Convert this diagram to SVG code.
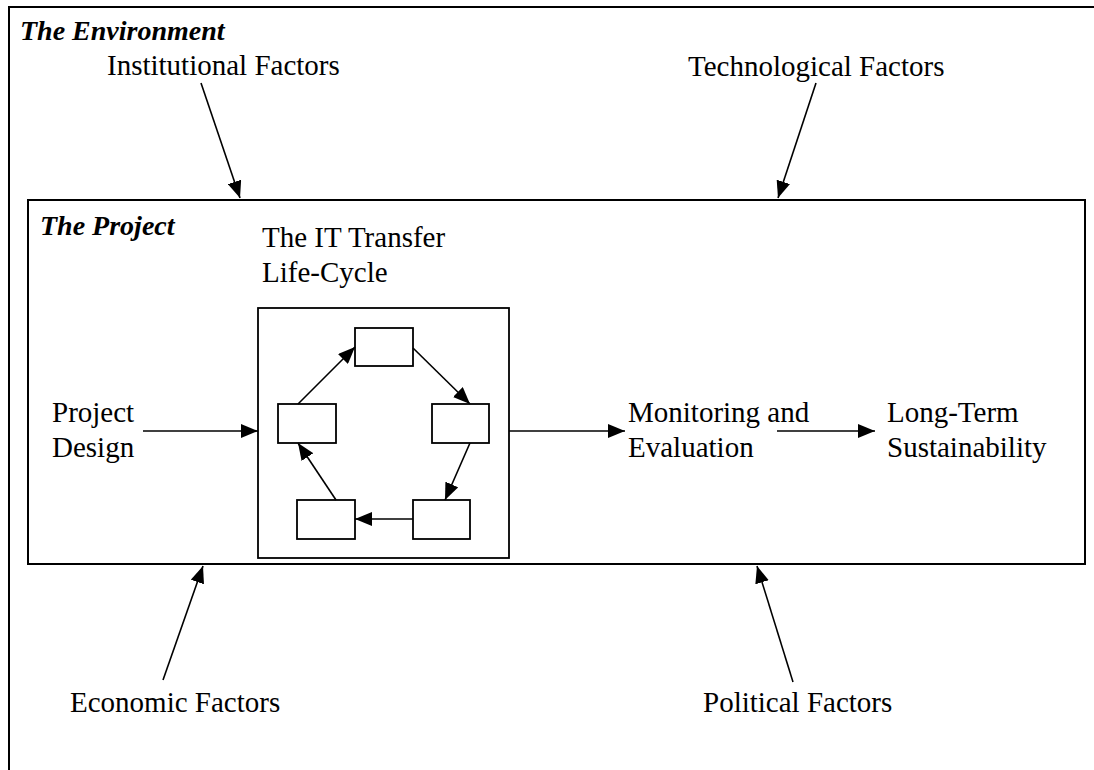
<svg xmlns="http://www.w3.org/2000/svg" width="1094" height="770" viewBox="0 0 1094 770">
  <style>
    .frame { fill: #ffffff; stroke: #000000; stroke-width: 2; }
    .box { fill: #ffffff; stroke: #000000; stroke-width: 1.8; }
    .conn { fill: none; stroke: #000000; stroke-width: 1.6; }
    .arrow { marker-end: url(#head); }
    .label { font-family: "Liberation Serif", "Times New Roman", serif; font-size: 29px; fill: #000000; }
    .title { font-family: "Liberation Serif", "Times New Roman", serif; font-size: 28px; font-weight: bold; font-style: italic; fill: #000000; }
  </style>
  <defs>
    <marker id="head" markerUnits="userSpaceOnUse" markerWidth="17" markerHeight="14" refX="17" refY="7" orient="auto">
      <path d="M0,0 L17,7 L0,14 z" fill="#000000"/>
    </marker>
  </defs>

  <rect width="1094" height="770" fill="#ffffff"/>

  <!-- outer environment frame (runs past the right and bottom edges) -->
  <g id="environment">
    <rect class="frame" x="9" y="7" width="1100" height="780"/>
    <text class="title" x="20" y="40">The Environment</text>
  </g>

  <!-- project frame -->
  <g id="project">
    <rect class="frame" x="28" y="200" width="1057" height="364"/>
    <text class="title" x="40" y="235">The Project</text>
  </g>

  <g id="institutional">
    <text class="label" x="107" y="75">Institutional Factors</text>
  </g>
  <g id="technological">
    <text class="label" x="688" y="76">Technological Factors</text>
  </g>
  <g id="economic">
    <text class="label" x="70" y="712">Economic Factors</text>
  </g>
  <g id="political">
    <text class="label" x="703" y="712">Political Factors</text>
  </g>

  <g id="project-design">
    <text class="label" x="52" y="422">Project</text>
    <text class="label" x="52" y="457">Design</text>
  </g>

  <g id="life-cycle">
    <text class="label" x="262" y="247">The IT Transfer</text>
    <text class="label" x="262" y="282">Life-Cycle</text>
    <rect class="box" x="258" y="308" width="251" height="250"/>
    <rect id="stage-top" class="box" x="355" y="328" width="58" height="38"/>
    <rect id="stage-right" class="box" x="432" y="404" width="57" height="39"/>
    <rect id="stage-bottom-right" class="box" x="413" y="500" width="57" height="39"/>
    <rect id="stage-bottom-left" class="box" x="297" y="500" width="58" height="39"/>
    <rect id="stage-left" class="box" x="278" y="404" width="58" height="39"/>
  </g>

  <g id="monitoring">
    <text class="label" x="628" y="422">Monitoring and</text>
    <text class="label" x="628" y="457">Evaluation</text>
  </g>

  <g id="sustainability">
    <text class="label" x="887" y="422">Long-Term</text>
    <text class="label" x="887" y="457">Sustainability</text>
  </g>

  <g id="connectors">
    <!-- external factors acting on the project -->
    <line class="conn arrow" x1="201" y1="83" x2="240" y2="198"/>
    <line class="conn arrow" x1="816" y1="83" x2="778" y2="198"/>
    <line class="conn arrow" x1="163" y1="680" x2="203" y2="566"/>
    <line class="conn arrow" x1="793" y1="682" x2="757" y2="566"/>

    <!-- main flow -->
    <line class="conn arrow" x1="143" y1="431" x2="258" y2="431"/>
    <line class="conn arrow" x1="509" y1="431" x2="625" y2="431"/>
    <line class="conn arrow" x1="777" y1="431" x2="875" y2="431"/>

    <!-- life-cycle loop -->
    <line class="conn arrow" x1="298" y1="404" x2="355" y2="347"/>
    <line class="conn arrow" x1="413" y1="348" x2="470" y2="404"/>
    <line class="conn arrow" x1="470" y1="443" x2="445" y2="500"/>
    <line class="conn arrow" x1="413" y1="519" x2="355" y2="519"/>
    <line class="conn arrow" x1="336" y1="500" x2="298" y2="443"/>
  </g>
</svg>
